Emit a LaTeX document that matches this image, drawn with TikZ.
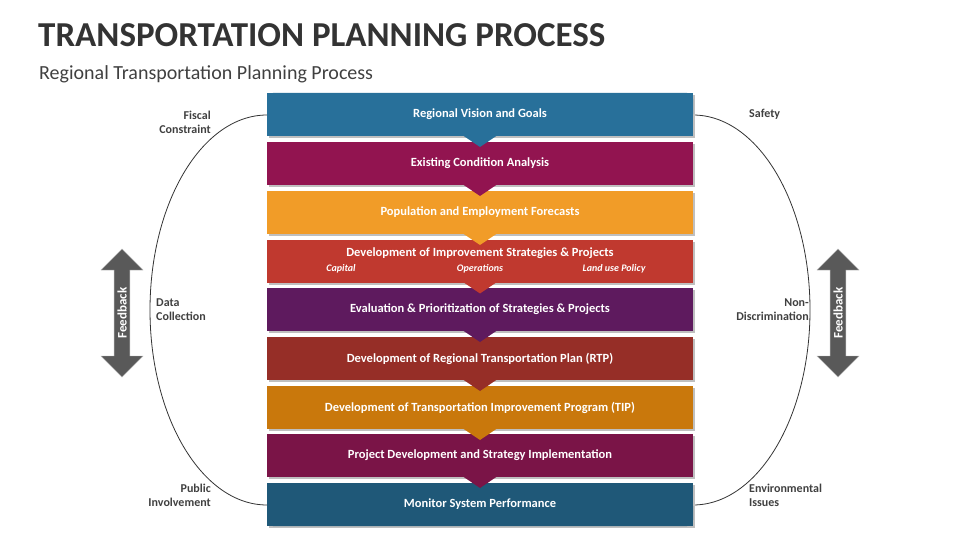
\documentclass[tikz,border=0pt]{standalone}
\usepackage{fontspec}
\setmainfont{Carlito}
\usetikzlibrary{shapes.arrows}
\definecolor{cA}{HTML}{28709A}\definecolor{cB}{HTML}{921450}\definecolor{cC}{HTML}{F19C28}
\definecolor{cD}{HTML}{C0392F}\definecolor{cE}{HTML}{5E1A5E}\definecolor{cF}{HTML}{962E27}
\definecolor{cG}{HTML}{C9780C}\definecolor{cH}{HTML}{7A1447}\definecolor{cI}{HTML}{1F5878}
\definecolor{lbl}{HTML}{404040}\definecolor{fb}{HTML}{595959}
\begin{document}
\begin{tikzpicture}[x=1pt,y=-1pt,
 stepbox/.style={minimum width=426pt,minimum height=43pt,inner sep=0pt,text=white,font=\bfseries\fontsize{12.5}{14}\selectfont},
 side/.style={text=lbl,font=\bfseries\fontsize{12}{14.5}\selectfont,inner sep=0pt}]
\useasboundingbox (0,0) rectangle (960,540);
\node[anchor=west,font=\bfseries\fontsize{35}{40}\selectfont,text=black!80,inner sep=0pt] (t) at (38,35) {TRANSPORTATION PLANNING PROCESS};
\node[anchor=west,font=\fontsize{20}{24}\selectfont,text=black!75,inner sep=0pt] (st) at (39,74) {Regional Transportation Planning Process};
% arcs
\draw[black!80,thick] (267,115) arc[start angle=-90,end angle=-270,x radius=117,y radius=195];
\draw[black!80,thick] (693,115) arc[start angle=-90,end angle=90,x radius=117,y radius=195];
% boxes
\def\Y{0}
\foreach \n/\c/\y in {b1/cA/114.5,b2/cB/163.5,b3/cC/212.5,b4/cD/261,b5/cE/309.5,b6/cF/358.5,b7/cG/407.5,b8/cH/455.5,b9/cI/504.5}{
 \fill[black!25] (269,\y-19.5) rectangle (695,\y+23.5);
 \fill[\c] (267,\y-21.5) rectangle (693,\y+21.5);
}
\fill[cA,rounded corners=6pt] (267,93) rectangle (693,120);
\fill[cI,rounded corners=6pt] (267,500) rectangle (693,526);
% notches
\foreach \c/\y in {cA/136,cB/185,cC/234,cD/282.5,cE/331,cF/380,cG/429,cH/477}{
 \fill[\c] (463,\y-0.5) -- (497,\y-0.5) -- (480,\y+11) -- cycle;
}
\node[stepbox] (b1) at (480,114.5) {Regional Vision and Goals};
\node[stepbox] (b2) at (480,163.5) {Existing Condition Analysis};
\node[stepbox] (b3) at (480,212.5) {Population and Employment Forecasts};
\node[stepbox,anchor=center] (b4) at (480,253) {Development of Improvement Strategies \& Projects};
\node[font=\bfseries\itshape\fontsize{10}{12}\selectfont,text=white,inner sep=0pt] (c1) at (341,269) {Capital};
\node[font=\bfseries\itshape\fontsize{10}{12}\selectfont,text=white,inner sep=0pt] (c2) at (480,269) {Operations};
\node[font=\bfseries\itshape\fontsize{10}{12}\selectfont,text=white,inner sep=0pt] (c3) at (614,269) {Land use Policy};
\node[stepbox] (b5) at (480,309.5) {Evaluation \& Prioritization of Strategies \& Projects};
\node[stepbox] (b6) at (480,358.5) {Development of Regional Transportation Plan (RTP)};
\node[stepbox] (b7) at (480,407.5) {Development of Transportation Improvement Program (TIP)};
\node[stepbox] (b8) at (480,455.5) {Project Development and Strategy Implementation};
\node[stepbox] (b9) at (480,504.5) {Monitor System Performance};
% side labels
\node[side,align=right,anchor=east] (l1) at (211,122.5) {Fiscal\\Constraint};
\node[side,align=left,anchor=west] (l2) at (156,309.5) {Data\\Collection};
\node[side,align=right,anchor=east] (l3) at (211,495.5) {Public\\Involvement};
\node[side,align=left,anchor=west] (r1) at (749,114) {Safety};
\node[side,align=right,anchor=east] (r2) at (809,309.5) {Non-\\Discrimination};
\node[side,align=left,anchor=west] (r3) at (749,495.5) {Environmental\\Issues};
% feedback arrows
\foreach \nm/\x in {fl/122,fr/838}{
 \node[double arrow,fill=fb,draw=black!30,minimum width=42pt,minimum height=128pt,double arrow head extend=8pt,inner sep=0pt,
  rotate=90,text=white,font=\bfseries\fontsize{13}{15}\selectfont] (\nm) at (\x,313) {Feedback};
}
\end{tikzpicture}
\end{document}
